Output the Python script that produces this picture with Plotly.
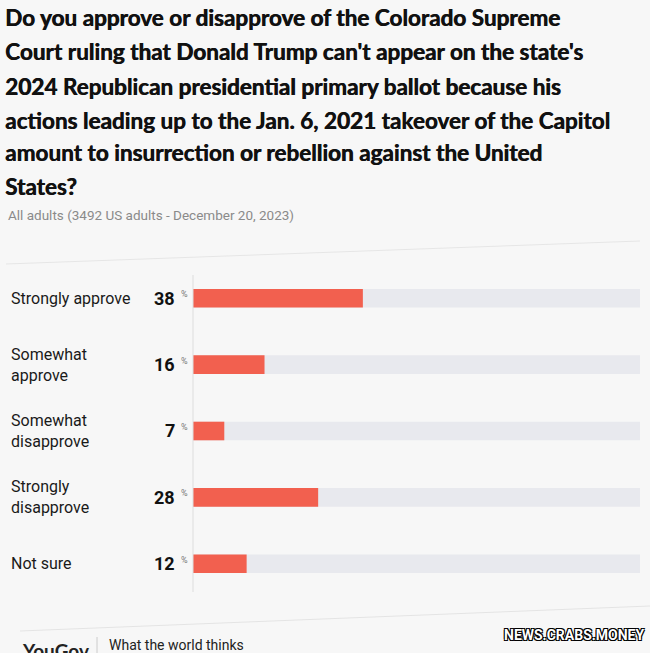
import plotly.graph_objects as go

categories = ["Strongly approve", "Somewhat<br>approve", "Somewhat<br>disapprove", "Strongly<br>disapprove", "Not sure"]
values = [38, 16, 7, 28, 12]
track = [100, 100, 100, 100, 100]

title_lines = [
    "Do you approve or disapprove of the Colorado Supreme",
    "Court ruling that Donald Trump can't appear on the state's",
    "2024 Republican presidential primary ballot because his",
    "actions leading up to the Jan. 6, 2021 takeover of the Capitol",
    "amount to insurrection or rebellion against the United",
    "States?",
]
subtitle = "All adults (3492 US adults - December 20, 2023)"

W, H = 650, 653
ypos = list(range(len(categories)))

fig = go.Figure()
fig.add_trace(go.Bar(x=track, y=ypos, orientation="h", marker=dict(color="#e8e9ee", line_width=0),
                     width=0.28, hoverinfo="skip", showlegend=False))
fig.add_trace(go.Bar(x=values, y=ypos, orientation="h", marker=dict(color="#f2604f", line_width=0),
                     width=0.28, showlegend=False))

def py(px):
    return 1 - px / H

ann = []
title_y = [17, 51, 86, 120, 153, 186]
for line, yy in zip(title_lines, title_y):
    ann.append(dict(text=line, x=3 / W, y=py(yy), xref="paper", yref="paper",
                    xanchor="left", yanchor="middle", showarrow=False,
                    font=dict(family="Lato", size=22.5, color="#111111", weight="bold",
                              shadow="0.6px 0 0 #111111")))
ann.append(dict(text=subtitle, x=6 / W, y=py(215), xref="paper", yref="paper", xanchor="left",
                yanchor="middle", showarrow=False, font=dict(family="Roboto", size=13.5, color="#8a8a8a")))

for i, (c, v) in enumerate(zip(categories, values)):
    ann.append(dict(text=c, x=9 / W, y=i, xref="paper", yref="y", xanchor="left", yanchor="middle",
                    align="left", showarrow=False,
                    font=dict(family="Roboto", size=16, color="#1a1a1a")))
    ann.append(dict(text="<b>%d</b>" % v,
                    x=177 / W, y=i, xref="paper", yref="y", xanchor="right", yanchor="middle",
                    showarrow=False, font=dict(family="Roboto", size=18, color="#111111")))
    ann.append(dict(text="%", x=179 / W, y=i, xref="paper", yref="y", xanchor="left", yanchor="middle",
                    yshift=4, showarrow=False, font=dict(family="Roboto", size=9, color="#777777")))

ann.append(dict(text="YouGov", x=20 / W, y=py(650), xref="paper", yref="paper", xanchor="left",
                yanchor="middle", showarrow=False,
                font=dict(family="Lato", size=19, color="#222222", weight="bold")))
ann.append(dict(text="What the world thinks", x=107 / W, y=py(645), xref="paper", yref="paper",
                xanchor="left", yanchor="middle", showarrow=False,
                font=dict(family="Roboto", size=14, color="#222222")))
ann.append(dict(text="<b>NEWS.CRABS.MONEY</b>", x=646 / W, y=py(635), xref="paper", yref="paper",
                xanchor="right", yanchor="middle", showarrow=False,
                font=dict(family="Roboto", size=14, color="#ffffff",
                          shadow="1px 1px 0 #000, -1px -1px 0 #000, 1px -1px 0 #000, -1px 1px 0 #000")))

shapes = [
    dict(type="line", xref="paper", yref="paper", x0=6 / W, x1=640 / W, y0=py(264), y1=py(241),
         line=dict(color="#e6e6e6", width=1)),
    dict(type="line", xref="paper", yref="paper", x0=193 / W, x1=193 / W, y0=py(275), y1=py(592),
         line=dict(color="#dddddd", width=1)),
    dict(type="line", xref="paper", yref="paper", x0=20 / W, x1=1, y0=py(631), y1=py(606),
         line=dict(color="#e4e4e4", width=1)),
    dict(type="line", xref="paper", yref="paper", x0=97 / W, x1=97 / W, y0=py(637), y1=py(653),
         line=dict(color="#cccccc", width=1)),
]

fig.update_layout(
    width=W, height=H, margin=dict(l=0, r=0, t=0, b=0),
    paper_bgcolor="#f7f7f7", plot_bgcolor="rgba(0,0,0,0)",
    barmode="overlay", annotations=ann, shapes=shapes,
    xaxis=dict(range=[0, 100], domain=[193 / W, 640 / W], visible=False, fixedrange=True),
    yaxis=dict(range=[4.5, -0.5], domain=[py(597), py(265)], visible=False, fixedrange=True),
    hovermode=False,
)

fig.write_html("out.html", config={"displayModeBar": False},
               post_script="document.body.style.margin='0';document.body.style.overflow='hidden';document.body.style.background='#f7f7f7';")
